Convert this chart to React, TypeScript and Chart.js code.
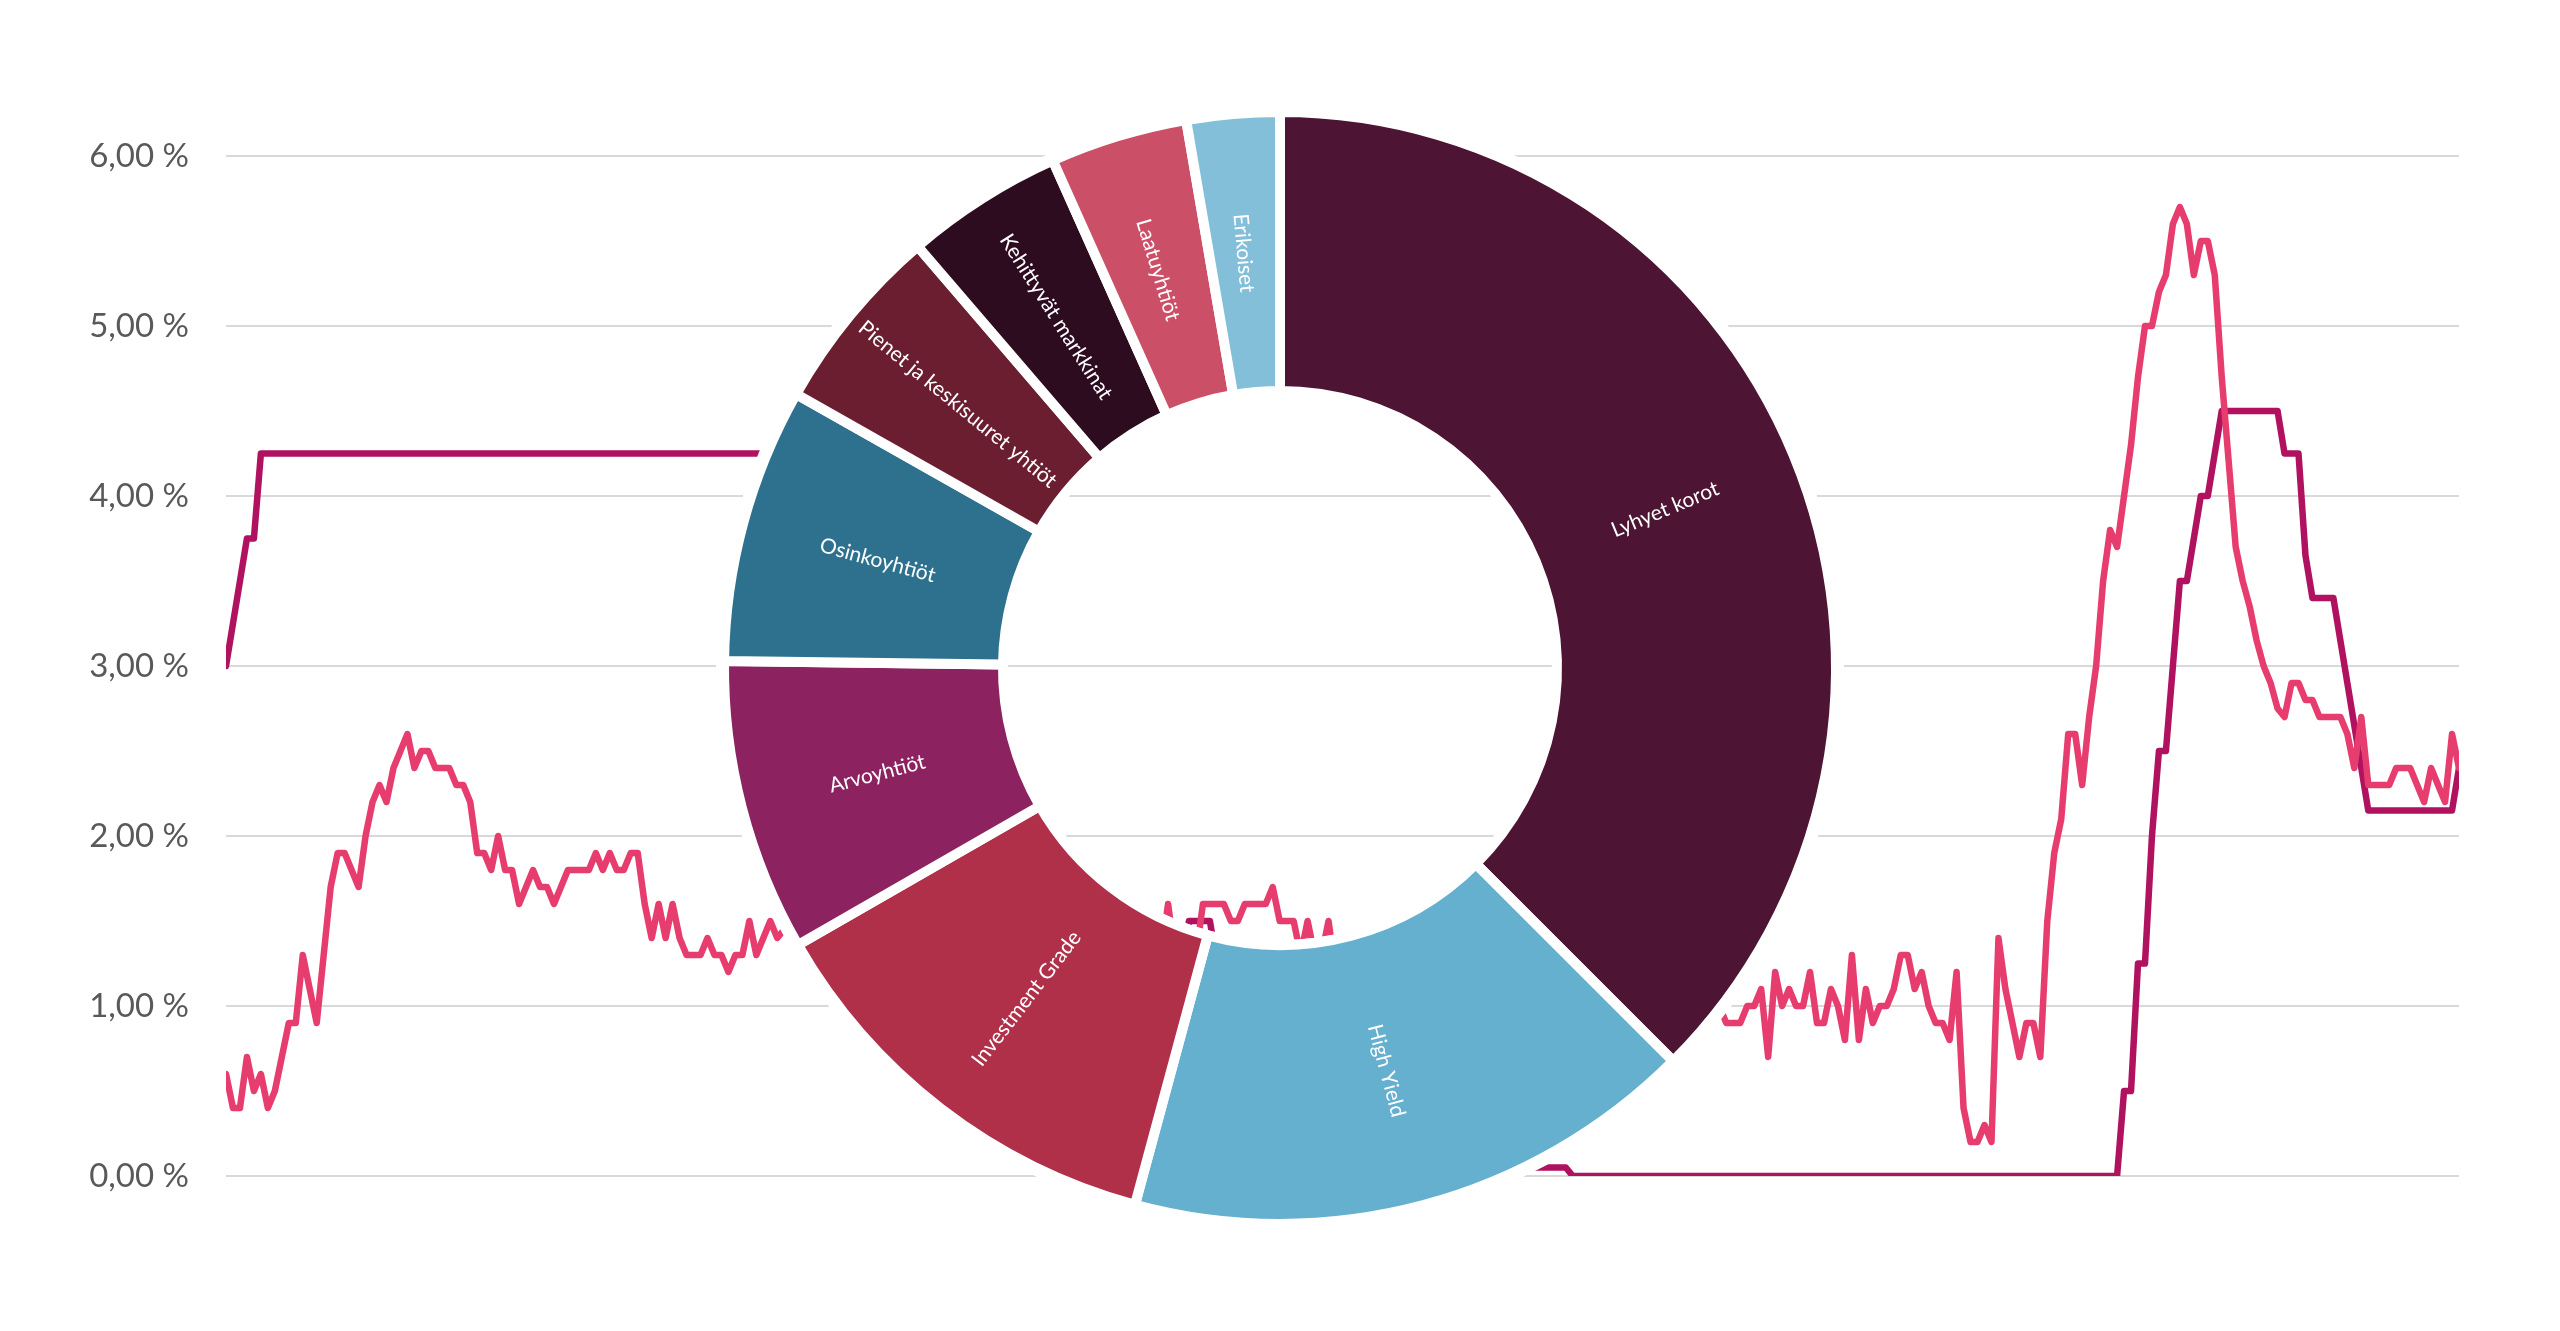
import { useEffect, useRef } from 'react'
import { Chart, registerables, type ArcElement, type Plugin } from 'chart.js'

Chart.register(...registerables)
Chart.defaults.font.family = 'Lato'

const PAGE_W = 2560
const PAGE_H = 1331

// 월별 수익률(분홍) — index 0 = 왼쪽 끝 달. 도넛 뒤로 가려지는 구간도 값은 채워 둠
const yieldValues = [
  0.6, 0.4, 0.4, 0.7, 0.5, 0.6, 0.4, 0.5, 0.7, 0.9,
  0.9, 1.3, 1.1, 0.9, 1.3, 1.7, 1.9, 1.9, 1.8, 1.7,
  2.0, 2.2, 2.3, 2.2, 2.4, 2.5, 2.6, 2.4, 2.5, 2.5,
  2.4, 2.4, 2.4, 2.3, 2.3, 2.2, 1.9, 1.9, 1.8, 2.0,
  1.8, 1.8, 1.6, 1.7, 1.8, 1.7, 1.7, 1.6, 1.7, 1.8,
  1.8, 1.8, 1.8, 1.9, 1.8, 1.9, 1.8, 1.8, 1.9, 1.9,
  1.6, 1.4, 1.6, 1.4, 1.6, 1.4, 1.3, 1.3, 1.3, 1.4,
  1.3, 1.3, 1.2, 1.3, 1.3, 1.5, 1.3, 1.4, 1.5, 1.4,
  1.45, 1.5, 1.6, 1.8, 1.7, 1.9, 2.1, 2.0, 2.2, 2.1,
  1.9, 1.6, 1.4, 1.2, 1.3, 1.5, 1.7, 1.8, 1.9, 1.8,
  1.7, 1.8, 1.9, 2.0, 1.9, 1.8, 1.7, 1.5, 1.4, 1.5,
  1.6, 1.4, 1.3, 1.2, 1.3, 1.4, 1.3, 1.2, 1.1, 1.2,
  1.3, 1.2, 1.1, 1.2, 1.3, 1.2, 1.1, 1.2, 1.3, 1.2,
  1.1, 1.2, 1.3, 1.2, 1.3, 1.6, 1.3, 1.3, 1.2, 1.3,
  1.6, 1.6, 1.6, 1.6, 1.5, 1.5, 1.6, 1.6, 1.6, 1.6,
  1.7, 1.5, 1.5, 1.5, 1.3, 1.5, 1.3, 1.3, 1.5, 1.2,
  1.2, 1.1, 1.2, 1.3, 1.2, 1.1, 1.0, 1.1, 1.2, 1.3,
  1.2, 1.1, 1.0, 0.9, 1.0, 1.1, 1.0, 0.9, 0.8, 0.9,
  1.0, 1.1, 1.0, 0.9, 1.0, 1.1, 1.2, 1.1, 1.0, 0.9,
  1.0, 1.0, 1.1, 1.2, 1.1, 1.0, 0.9, 1.0, 1.1, 1.0,
  0.9, 1.0, 1.1, 1.0, 0.9, 1.0, 1.1, 1.0, 0.9, 1.0,
  1.1, 1.0, 0.9, 1.0, 1.0, 0.9, 0.9, 0.9, 1.0, 1.0,
  1.1, 0.7, 1.2, 1.0, 1.1, 1.0, 1.0, 1.2, 0.9, 0.9,
  1.1, 1.0, 0.8, 1.3, 0.8, 1.1, 0.9, 1.0, 1.0, 1.1,
  1.3, 1.3, 1.1, 1.2, 1.0, 0.9, 0.9, 0.8, 1.2, 0.4,
  0.2, 0.2, 0.3, 0.2, 1.4, 1.1, 0.9, 0.7, 0.9, 0.9,
  0.7, 1.5, 1.9, 2.1, 2.6, 2.6, 2.3, 2.7, 3.0, 3.5,
  3.8, 3.7, 4.0, 4.3, 4.7, 5.0, 5.0, 5.2, 5.3, 5.6,
  5.7, 5.6, 5.3, 5.5, 5.5, 5.3, 4.7, 4.2, 3.7, 3.5,
  3.35, 3.15, 3.0, 2.9, 2.75, 2.7, 2.9, 2.9, 2.8, 2.8,
  2.7, 2.7, 2.7, 2.7, 2.6, 2.4, 2.7, 2.3, 2.3, 2.3,
  2.3, 2.4, 2.4, 2.4, 2.3, 2.2, 2.4, 2.3, 2.2, 2.6,
  2.4,
]

// 기준금리(진한 자주) — 바뀌는 달만 (달 index, 수준)
const rateMonths = [
  0, 3, 4, 5, 90, 92, 94, 96, 98, 100, 102, 104,
  134, 135, 137, 138, 141, 142, 143,
  150, 151, 160, 161, 166, 167, 172, 173, 176, 177, 192, 193,
  271, 272, 273, 274, 275, 276, 277, 278, 279, 280, 281, 282, 283, 284, 285, 286,
  294, 295, 297, 298, 299, 302, 303, 304, 305, 306, 307, 319, 320,
]
const rateValues = [
  3.0, 3.75, 3.75, 4.25, 4.25, 3.75, 3.25, 2.5, 2.0, 1.5, 1.25, 1.0,
  1.0, 1.25, 1.25, 1.5, 1.5, 1.25, 1.0,
  1.0, 0.75, 0.75, 0.5, 0.5, 0.25, 0.25, 0.15, 0.15, 0.05, 0.05, 0,
  0, 0.5, 0.5, 1.25, 1.25, 2.0, 2.5, 2.5, 3.0, 3.5, 3.5, 3.75, 4.0, 4.0, 4.25, 4.5,
  4.5, 4.25, 4.25, 3.65, 3.4, 3.4, 3.15, 2.9, 2.65, 2.4, 2.15, 2.15, 2.4,
]

const yTickLabels = ['0,00 %', '1,00 %', '2,00 %', '3,00 %', '4,00 %', '5,00 %', '6,00 %']

const allocationLabels = [
  'Lyhyet korot',
  'High Yield',
  'Investment Grade',
  'Arvoyhtiöt',
  'Osinkoyhtiöt',
  'Pienet ja keskisuuret yhtiöt',
  'Kehittyvät markkinat',
  'Laatuyhtiöt',
  'Erikoiset',
]
const allocationShares = [37.5, 16.7, 12.5, 8.5, 8.0, 5.5, 4.6, 4.0, 2.7]
const allocationColors = ['#4d1433', '#66b0cf', '#b0304a', '#8c2360', '#2e718e', '#6b1e30', '#2d0c20', '#cc4f68', '#84bfd9']

const PINK = '#e63c6e'
const MAGENTA = '#b0125f'

// 도넛 중심·크기 (페이지 좌표)
const DONUT_CX = 1280
const DONUT_CY = 668
const DONUT_BOX = 1200

function RateLines() {
  const canvasRef = useRef<HTMLCanvasElement>(null)

  useEffect(() => {
    const canvas = canvasRef.current
    if (!canvas) return
    const line = { pointRadius: 0, tension: 0, borderWidth: 6.5, borderJoinStyle: 'round', borderCapStyle: 'round' } as const
    const chart = new Chart(canvas, {
      type: 'line',
      data: {
        datasets: [
          { ...line, data: yieldValues.map((y, x) => ({ x, y })), borderColor: PINK },
          { ...line, data: rateMonths.map((x, k) => ({ x, y: rateValues[k] })), borderColor: MAGENTA },
        ],
      },
      options: {
        responsive: false,
        animation: false,
        events: [],
        layout: { padding: { top: 156, right: 101, bottom: 155, left: 0 } },
        plugins: { legend: { display: false }, tooltip: { enabled: false } },
        scales: {
          x: { type: 'linear', min: 0, max: yieldValues.length - 1, display: false },
          y: {
            min: 0,
            max: 6,
            afterFit: (s) => {
              s.width = 226
            },
            ticks: {
              stepSize: 1,
              padding: 37,
              color: '#595959',
              font: { size: 33, family: 'Lato' },
              callback: (_v, i) => yTickLabels[i],
            },
            grid: { color: '#d9d9d9', lineWidth: 2, drawTicks: false },
            border: { display: false },
          },
        },
      },
    })
    return () => chart.destroy()
  }, [])

  return <canvas ref={canvasRef} width={PAGE_W} height={PAGE_H} style={{ position: 'absolute', left: 0, top: 0 }} />
}

// 도넛 바깥·안쪽 흰 테두리(선 차트를 가림)
const haloPlugin: Plugin<'doughnut'> = {
  id: 'halo',
  beforeDatasetsDraw(chart) {
    const arc = chart.getDatasetMeta(0).data[0] as unknown as ArcElement
    if (!arc) return
    const { ctx } = chart
    ctx.save()
    ctx.beginPath()
    ctx.arc(arc.x, arc.y, arc.outerRadius + 8, 0, Math.PI * 2)
    ctx.arc(arc.x, arc.y, Math.max(arc.innerRadius - 5, 0), 0, Math.PI * 2, true)
    ctx.fillStyle = '#ffffff'
    ctx.fill()
    ctx.restore()
  },
}

// 조각 이름을 반지름 방향으로, 뒤집히지 않게
const sliceLabelPlugin: Plugin<'doughnut'> = {
  id: 'sliceLabels',
  afterDatasetsDraw(chart) {
    const { ctx } = chart
    ctx.save()
    ctx.fillStyle = '#ffffff'
    ctx.font = '21px Lato'
    ctx.textAlign = 'center'
    ctx.textBaseline = 'middle'
    chart.getDatasetMeta(0).data.forEach((el, i) => {
      const a = el as unknown as ArcElement
      const mid = (a.startAngle + a.endAngle) / 2
      const r = (a.innerRadius + a.outerRadius) / 2
      const rot = Math.cos(mid) < 0 ? mid + Math.PI : mid
      ctx.save()
      ctx.translate(a.x + Math.cos(mid) * r, a.y + Math.sin(mid) * r)
      ctx.rotate(rot)
      ctx.fillText(allocationLabels[i], 0, 1)
      ctx.restore()
    })
    ctx.restore()
  },
}

function AllocationDonut() {
  const canvasRef = useRef<HTMLCanvasElement>(null)

  useEffect(() => {
    const canvas = canvasRef.current
    if (!canvas) return
    const chart = new Chart(canvas, {
      type: 'doughnut',
      data: {
        labels: allocationLabels,
        datasets: [
          {
            data: allocationShares,
            backgroundColor: allocationColors,
            borderColor: '#ffffff',
            borderWidth: 10,
            borderAlign: 'center',
          },
        ],
      },
      options: {
        responsive: false,
        animation: false,
        events: [],
        radius: 556,
        cutout: '49.82%',
        plugins: { legend: { display: false }, tooltip: { enabled: false } },
      },
      plugins: [haloPlugin, sliceLabelPlugin],
    })
    return () => chart.destroy()
  }, [])

  return (
    <canvas
      ref={canvasRef}
      width={DONUT_BOX}
      height={DONUT_BOX}
      style={{ position: 'absolute', left: DONUT_CX - DONUT_BOX / 2, top: DONUT_CY - DONUT_BOX / 2 }}
    />
  )
}

export default function App() {
  return (
    <div style={{ position: 'absolute', left: 0, top: 0, width: PAGE_W, height: PAGE_H, background: '#ffffff', overflow: 'hidden' }}>
      <RateLines />
      <AllocationDonut />
    </div>
  )
}
